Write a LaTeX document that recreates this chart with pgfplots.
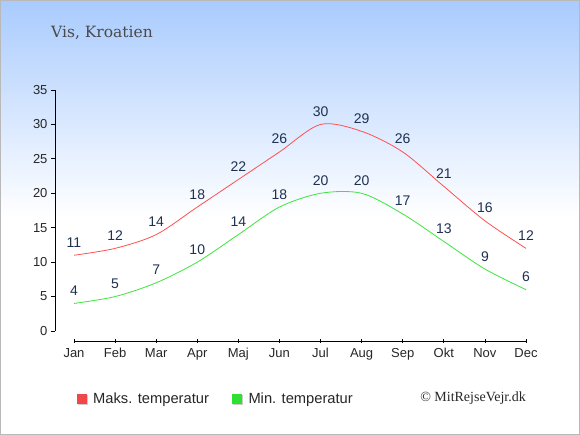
\documentclass[border=0pt]{standalone}
\usepackage{pgfplots}
\pgfplotsset{compat=1.18}
\usepackage{fontspec}
\setmainfont{Liberation Sans}
\newfontfamily\titlefont{DejaVu Serif}
\newfontfamily\copyfont{Liberation Serif}
\definecolor{bgtop}{HTML}{A9CBFE}
\definecolor{maxcol}{HTML}{FF5050}
\definecolor{mincol}{HTML}{3CE63C}
\definecolor{maxleg}{HTML}{F04848}
\definecolor{minleg}{HTML}{30E030}
\definecolor{labcol}{HTML}{1F3050}
\definecolor{titlecol}{HTML}{4A4A4A}
\begin{document}
\begin{tikzpicture}[x=1pt,y=1pt]
\useasboundingbox (0,0) rectangle (580,435);
\fill[white] (0,0) rectangle (580,435);
\shade[top color=bgtop, bottom color=white] (0,218) rectangle (580,435);
\draw[gray!55, line width=1.2pt] (0.6,0.6) rectangle (579.4,434.4);
\node[anchor=base west, inner sep=0pt, text=titlecol, font=\titlefont\fontsize{15.5}{18}\selectfont] at (51,397.5) {Vis, Kroatien};
\begin{axis}[
  at={(55pt,94pt)}, anchor=south west,
  scale only axis, width=471pt, height=251pt,
  xmin=-0.4624, xmax=11, ymin=-1.452, ymax=35,
  axis line style={draw=none},
  tick pos=left, tick align=outside, major tick length=4pt,
  x tick style={yshift=2pt, black, line width=0.8pt},
  y tick style={black, line width=0.8pt},
  xtick={0,...,11},
  xticklabels={Jan,Feb,Mar,Apr,Maj,Jun,Jul,Aug,Sep,Okt,Nov,Dec},
  ytick={0,5,...,35},
  /pgf/number format/assume math mode=true,
  tick label style={font=\fontsize{13}{15}\selectfont, text=black!85},
  clip=false,
  nodes near coords,
  nodes near coords style={anchor=base, yshift=8pt, inner sep=0pt, text=labcol, font=\fontsize{14}{16}\selectfont},
]
\draw[black, line width=0.8pt] (axis cs:0,-1.452) -- (axis cs:11,-1.452);
\draw[black, line width=0.8pt] (axis cs:-0.4624,0) -- (axis cs:-0.4624,35);
\addplot[maxcol, line width=0.8pt, smooth, tension=0.5, mark=none] coordinates {
(0,11) (1,12) (2,14) (3,18) (4,22) (5,26) (6,30) (7,29) (8,26) (9,21) (10,16) (11,12)};
\addplot[mincol, line width=0.8pt, smooth, tension=0.5, mark=none] coordinates {
(0,4) (1,5) (2,7) (3,10) (4,14) (5,18) (6,20) (7,20) (8,17) (9,13) (10,9) (11,6)};
\end{axis}
% legend
\fill[gray!40] (77.5,30) rectangle (87.5,40);
\fill[maxleg] (76.5,31) rectangle (86.5,41);
\node[anchor=base west, inner sep=0pt, font=\fontsize{14.7}{17}\selectfont, text=black!85] at (93,31.7) {Maks. temperatur};
\fill[gray!40] (233,30) rectangle (243,40);
\fill[minleg] (232,31) rectangle (242,41);
\node[anchor=base west, inner sep=0pt, font=\fontsize{14.7}{17}\selectfont, text=black!85] at (248.3,31.7) {Min. temperatur};
\node[anchor=base east, inner sep=0pt, font=\copyfont\fontsize{14}{16}\selectfont, text=black!85] at (526,33.3) {© MitRejseVejr.dk};
\end{tikzpicture}
\end{document}
